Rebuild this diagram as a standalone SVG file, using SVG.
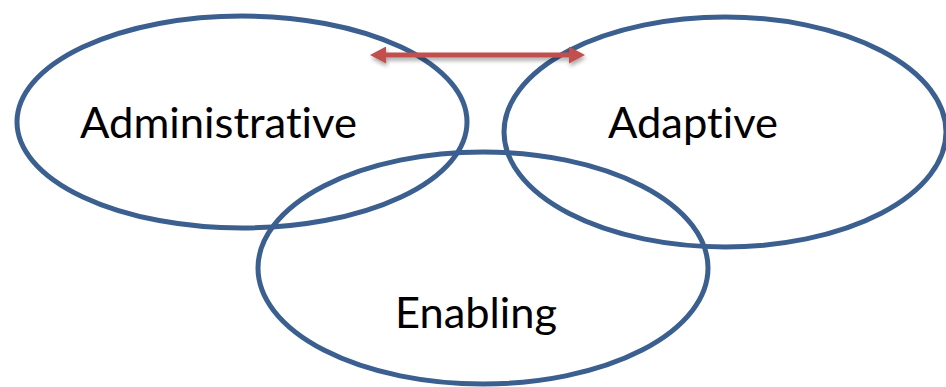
<svg xmlns="http://www.w3.org/2000/svg" width="946" height="387" viewBox="0 0 946 387">
<style>
.oval{fill:none;stroke:#3b5f8f;stroke-width:5}
.lbl{font-family:"Lato","Liberation Sans","Open Sans",sans-serif;font-size:42px;fill:#000;font-variant-ligatures:none}
</style>
<defs>
<marker id="ah" viewBox="0 0 16 17" refX="2" refY="8.5" markerWidth="16" markerHeight="17" markerUnits="userSpaceOnUse" orient="auto-start-reverse">
<path d="M0,0 L16,8.5 L0,17 Z" fill="#c0504d"/>
</marker>
<filter id="sh" filterUnits="userSpaceOnUse" x="350" y="35" width="260" height="45">
<feGaussianBlur in="SourceAlpha" stdDeviation="2"/>
<feOffset dx="1" dy="3" result="b"/>
<feComponentTransfer><feFuncA type="linear" slope="0.35"/></feComponentTransfer>
<feMerge><feMergeNode/><feMergeNode in="SourceGraphic"/></feMerge>
</filter>
</defs>
<g id="administrative">
<ellipse class="oval" cx="242" cy="122" rx="225" ry="106"/>
<text class="lbl" x="80" y="138" textLength="277" lengthAdjust="spacingAndGlyphs">Administrative</text>
</g>
<g id="adaptive">
<ellipse class="oval" cx="725" cy="132" rx="221" ry="115"/>
<text class="lbl" x="608" y="138" textLength="170" lengthAdjust="spacingAndGlyphs">Adaptive</text>
</g>
<g id="enabling">
<ellipse class="oval" cx="483" cy="268" rx="225" ry="116"/>
<text class="lbl" x="395" y="328" textLength="162" lengthAdjust="spacingAndGlyphs">Enabling</text>
</g>
<g id="connectors" filter="url(#sh)">
<line x1="384" y1="55" x2="571" y2="55" stroke="#c0504d" stroke-width="5" marker-start="url(#ah)" marker-end="url(#ah)"/>
</g>
</svg>
